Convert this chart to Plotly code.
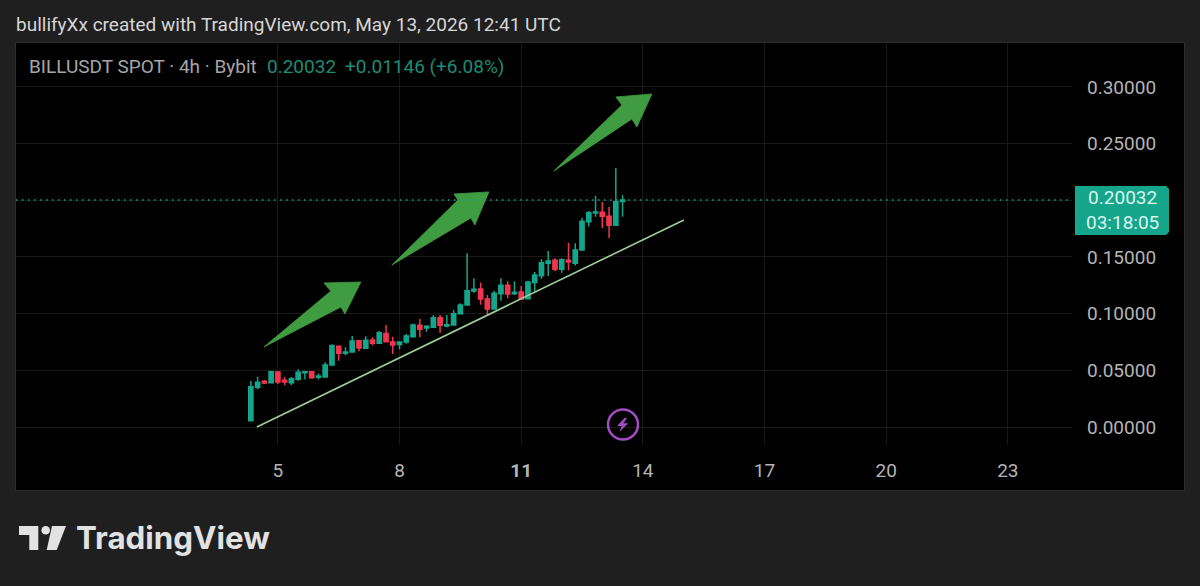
import pandas as pd
import plotly.graph_objects as go

# ---- data ----
start_time = "2026-05-04 08:00"
opens = [.0056,.0350,.0403,.0391,.0485,.0412,.0391,.0421,.0479,.0488,.0438,.0441,.0547,.0712,
         .0650,.0662,.0762,.0694,.0768,.0738,.0826,.0750,.0729,.0750,.0797,.0897,.0874,.0879,
         .0965,.0891,.0900,.1000,.1076,.1200,.1218,.1129,.1041,.1176,.1250,.1176,.1191,.1132,
         .1276,.1335,.1444,.1471,.1391,.1471,.1444,.1562,.1812,.1888,.1894,.1859,.1779,.1990]
highs = [.0409,.0444,.0415,.0497,.0494,.0441,.0441,.0509,.0490,.0494,.0471,.0571,.0729,.0718,
         .0703,.0803,.0768,.0800,.0791,.0847,.0900,.0797,.0753,.0821,.0912,.0953,.0897,.0988,
         .0988,.0988,.1032,.1091,.1532,.1312,.1274,.1165,.1203,.1312,.1285,.1285,.1244,.1291,
         .1368,.1479,.1553,.1488,.1488,.1626,.1621,.1847,.1906,.2041,.1985,.1944,.2282,.2044]
lows = [.0050,.0332,.0379,.0388,.0379,.0368,.0371,.0409,.0418,.0426,.0418,.0438,.0544,.0585,
        .0632,.0659,.0668,.0691,.0718,.0735,.0750,.0644,.0685,.0735,.0788,.0791,.0841,.0876,
        .0829,.0879,.0897,.0997,.1074,.1185,.1079,.0979,.1038,.1115,.1135,.1165,.1124,.1129,
        .1194,.1309,.1332,.1374,.1362,.1382,.1426,.1559,.1768,.1856,.1756,.1668,.1776,.1856]
closes = [.0356,.0394,.0388,.0488,.0397,.0397,.0426,.0482,.0488,.0435,.0450,.0547,.0718,.0650,
          .0662,.0759,.0697,.0765,.0738,.0832,.0753,.0724,.0750,.0803,.0900,.0862,.0888,.0965,
          .0897,.0903,.1000,.1076,.1203,.1215,.1129,.1041,.1179,.1250,.1174,.1188,.1129,.1279,
          .1341,.1450,.1465,.1391,.1476,.1456,.1562,.1815,.1891,.1897,.1859,.1779,.1988,.20032]
y_ticks = [0.0, 0.05, 0.10, 0.15, 0.20, 0.25, 0.30]
y_tick_text = ["0.00000", "0.05000", "0.10000", "0.15000", "", "0.25000", "0.30000"]
x_tick_days = [5, 8, 11, 14, 17, 20, 23]
x_tick_text = ["5", "8", "<b>11</b>", "14", "17", "20", "23"]
last_price = 0.20032

# drawings, as (day of May, price)
trend_days = [4.482, 15.012]
trend_prices = [0.0, 0.1827]
arrow1_days = [4.655, 6.307, 6.134, 7.047, 6.652, 6.554, 4.655]
arrow1_prices = [.0706, .1200, .1271, .1279, .0997, .1059, .0706]
arrow2_days = [7.811, 9.439, 9.340, 10.203, 9.858, 9.760, 7.811]
arrow2_prices = [.1429, .2003, .2056, .2074, .1782, .1844, .1429]
arrow3_days = [11.806, 13.483, 13.335, 14.223, 13.853, 13.730, 11.806]
arrow3_prices = [.2259, .2841, .2912, .2938, .2647, .2718, .2259]

# ---- colours ----
BG = "#1f1f1f"
PANE = "#000000"
GRID = "#191919"
GREEN = "#14a58b"
RED = "#f0364f"
ARROW = "#3f9c40"
TREND = "#9ccf98"
TEXT = "#b4b4b4"
FONT = "Roboto"
SIZE = 19

# ---- layout in pixels ----
W, H = 1200, 586
L, R, T, B = 16, 1072, 43, 445


def day(d):
    return pd.Timestamp("2026-05-01") + pd.Timedelta(days=d - 1)


def px(x):
    return (x - L) / (R - L)


def py(y):
    return (B - y) / (B - T)


def path(points):
    return "M " + " L ".join(f"{px(a):.5f},{py(b):.5f}" for a, b in points) + " Z"


times = pd.date_range(start_time, periods=len(opens), freq="4h")

fig = go.Figure()
fig.add_trace(go.Candlestick(
    x=times, open=opens, high=highs, low=lows, close=closes,
    increasing=dict(line=dict(color=GREEN, width=1.5), fillcolor=GREEN),
    decreasing=dict(line=dict(color=RED, width=1.5), fillcolor=RED),
    whiskerwidth=0, showlegend=False, hoverinfo="skip",
))
fig.add_trace(go.Scatter(x=[day(d) for d in trend_days], y=trend_prices, mode="lines",
                         line=dict(color=TREND, width=1.6), showlegend=False, hoverinfo="skip"))
for ds, ps in [(arrow1_days, arrow1_prices), (arrow2_days, arrow2_prices), (arrow3_days, arrow3_prices)]:
    fig.add_trace(go.Scatter(x=[day(d) for d in ds], y=ps, mode="lines", fill="toself",
                             fillcolor=ARROW, line=dict(color=ARROW, width=0.8),
                             showlegend=False, hoverinfo="skip"))

shapes = [
    dict(type="rect", xref="paper", yref="paper", x0=px(15), x1=px(1185), y0=py(491), y1=py(42),
         fillcolor="#2b2b2b", line_width=0, layer="below"),
    dict(type="rect", xref="paper", yref="paper", x0=px(16), x1=px(1184), y0=py(490), y1=py(43),
         fillcolor=PANE, line_width=0, layer="below"),
    # last price line
    dict(type="line", xref="paper", yref="y", x0=0, x1=1, y0=last_price, y1=last_price,
         line=dict(color="#1f9f86", width=1.4, dash="1.5px 4.5px")),
    # price label
    dict(type="path", xref="paper", yref="paper",
         path=path([(1075, 186), (1166, 186), (1169, 189), (1169, 232), (1166, 235), (1075, 235)]),
         fillcolor=GREEN, line_width=0),
    # lightning badge
    dict(type="circle", xref="paper", yref="paper", x0=px(608), x1=px(638), y0=py(439.5), y1=py(409.5),
         line=dict(color="#a24cc4", width=2.5), fillcolor="rgba(0,0,0,0)"),
    dict(type="path", xref="paper", yref="paper",
         path=path([(624.5, 418), (617, 426), (621.7, 426), (619.3, 432), (628.3, 423.3), (623.5, 423.3), (627, 418)]),
         fillcolor="#a24cc4", line_width=0),
    # logo mark
    dict(type="path", xref="paper", yref="paper",
         path=path([(19, 526), (38.3, 526), (38.3, 550), (29.3, 550), (29.3, 535), (19, 535)]),
         fillcolor="#e2e2e2", line_width=0),
    dict(type="circle", xref="paper", yref="paper", x0=px(41.4), x1=px(50), y0=py(534.5), y1=py(526),
         fillcolor="#e2e2e2", line_width=0),
    dict(type="path", xref="paper", yref="paper",
         path=path([(52, 526), (66, 526), (56.7, 550), (46.7, 550)]),
         fillcolor="#e2e2e2", line_width=0),
]


def note(x, y, text, size, color, anchor="left", family=FONT):
    return dict(xref="paper", yref="paper", x=px(x), y=py(y), text=text, showarrow=False,
                xanchor=anchor, yanchor="middle", align=anchor,
                font=dict(family=family, size=size, color=color))


annotations = [
    note(14, 24, "bullifyXx created with TradingView.com, May 13, 2026 12:41 UTC", SIZE, "#d6d6d6"),
    note(27, 67, "BILLUSDT SPOT · 4h · Bybit", SIZE, "#a6a6a6"),
    note(265, 67, "0.20032", SIZE, "#1e8c73"),
    note(343, 67, "+0.01146 (+6.08%)", SIZE, "#1e8c73"),
    note(1122, 210.5, "0.20032<br>03:18:05", SIZE, "#d9f5ee", "center"),
    note(74, 538, "<b>TradingView</b>", 31.3, "#e2e2e2", family="Inter"),
]

fig.update_layout(
    width=W, height=H, autosize=False,
    margin=dict(l=L, r=W - R, t=T, b=H - B, pad=0),
    paper_bgcolor=BG, plot_bgcolor=PANE,
    font=dict(family=FONT, size=SIZE, color=TEXT),
    showlegend=False, shapes=shapes, annotations=annotations,
    boxgap=0.22, boxgroupgap=0.2,
    xaxis=dict(
        type="date", range=["2026-04-28 13:00", "2026-05-24 14:00"],
        rangeslider=dict(visible=False),
        tickmode="array", tickvals=[day(d) for d in x_tick_days], ticktext=x_tick_text,
        showgrid=True, gridcolor=GRID, gridwidth=1, zeroline=False, showline=False,
        ticks="", ticklabelstandoff=12, tickfont=dict(color=TEXT, size=SIZE),
    ),
    yaxis=dict(
        side="right", range=[-0.01588, 0.3388],
        tickmode="array", tickvals=y_ticks, ticktext=y_tick_text,
        showgrid=True, gridcolor=GRID, gridwidth=1, zeroline=False, showline=False,
        ticks="", ticklabelstandoff=14, tickfont=dict(color=TEXT, size=SIZE),
    ),
)

fig.write_html("out.html", config=dict(displayModeBar=False),
               post_script="document.body.style.margin='0';")
